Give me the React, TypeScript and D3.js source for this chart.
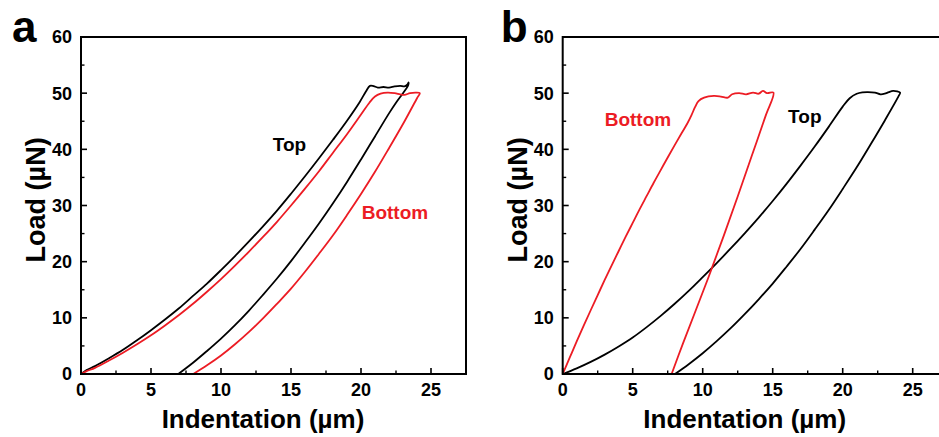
import * as d3 from 'd3';
import React, { useEffect, useRef } from 'react';

// load-indentation loops, [indentation µm, load µN], loading then unloading
const aTop = [
  [0, 0], [0.4, 0.7], [1, 1.4], [2, 2.8], [3, 4.3], [4, 6.0], [5, 7.8], [6, 9.7], [7, 11.7], [8, 13.9],
  [9, 16.1], [10, 18.5], [11, 21.0], [12, 23.6], [13, 26.3], [14, 29.1], [15, 32.1], [16, 35.2],
  [17, 38.4], [18, 41.7], [19, 45.1], [19.9, 48.4], [20.35, 50.3], [20.64, 51.3], [20.9, 51.25],
  [21.2, 51.0], [21.6, 51.1], [22.0, 51.0], [22.4, 51.2], [22.8, 51.3], [23.1, 51.2], [23.3, 51.5],
  [23.4, 51.9], [23.35, 51.3],
  [23.0, 50.0], [22.5, 48.3], [22.0, 46.4], [21, 42.3], [20, 38.2], [19, 34.2], [18, 30.4], [17, 26.8],
  [16, 23.4], [15, 20.1], [14, 17.0], [13, 14.1], [12, 11.3], [11, 8.7], [10, 6.3], [9, 4.1], [8, 2.0],
  [6.95, 0]
];
const aBottom = [
  [0, 0], [0.4, 0.5], [1, 1.1], [2, 2.4], [3, 3.8], [4, 5.3], [5, 6.9], [6, 8.65], [7, 10.5], [8, 12.5],
  [9, 14.65], [10, 16.9], [11, 19.3], [12, 21.8], [13, 24.4], [14, 27.1], [15, 30.0], [16, 33.0],
  [17, 36.1], [18, 39.4], [19, 42.7], [20, 46.2], [20.6, 48.3], [21.0, 49.4], [21.4, 49.9], [21.9, 50.1],
  [22.4, 50.0], [22.8, 49.8], [23.1, 49.7], [23.5, 50.0], [23.9, 50.1], [24.2, 50.0],
  [24, 49.1], [23, 44.5], [22, 40.2], [21, 36.0], [20, 32.05], [19, 28.3], [18, 24.7], [17, 21.4],
  [16, 18.2], [15, 15.2], [14, 12.5], [13, 9.9], [12, 7.5], [11, 5.3], [10, 3.3], [9, 1.55], [8.02, 0]
];
const bTop = [
  [0, 0], [1, 1.0], [2, 2.15], [3, 3.45], [4, 4.9], [5, 6.5], [6, 8.35], [7, 10.35], [8, 12.5], [9, 14.8],
  [10, 17.25], [11, 19.75], [12, 22.35], [13, 25.05], [14, 27.85], [15, 30.8], [16, 33.9], [17, 37.15],
  [18, 40.5], [19, 44.0], [20, 47.6], [20.5, 49.1], [21.0, 49.9], [21.4, 50.15], [21.8, 50.2],
  [22.3, 50.1], [22.7, 49.8], [23.0, 49.9], [23.3, 50.2], [23.6, 50.4], [23.9, 50.3], [24.1, 50.1],
  [24, 49.5], [23, 45.1], [22, 40.9], [21, 36.8], [20, 32.95], [19, 29.2], [18, 25.7], [17, 22.3],
  [16, 19.15], [15, 16.1], [14, 13.3], [13, 10.65], [12, 8.15], [11, 5.85], [10, 3.7], [9, 1.75],
  [8.02, 0]
];
const bBottom = [
  [0, 0], [0.5, 2.9], [1, 5.8], [1.5, 8.6], [2, 11.35], [2.5, 14.05], [3, 16.75], [3.5, 19.35], [4, 21.9],
  [4.5, 24.45], [5, 26.9], [5.5, 29.35], [6, 31.7], [6.5, 34.05], [7, 36.3], [7.5, 38.55], [8, 40.75],
  [8.5, 42.9], [8.9, 44.6], [9.2, 46.1], [9.45, 47.5], [9.7, 48.6], [10.1, 49.2], [10.8, 49.5],
  [11.3, 49.4], [11.8, 49.2], [12.1, 49.8], [12.6, 50.0], [13.1, 49.8], [13.6, 50.1], [14.0, 49.9],
  [14.3, 50.4], [14.6, 50.0], [15.05, 50.1],
  [14.5, 46.0], [13.5, 38.8], [12.5, 31.6], [11.5, 24.6], [10.5, 17.8], [9.5, 11.3], [8.6, 5.5],
  [7.78, 0]
];

const xTicks = [0, 5, 10, 15, 20, 25];
const yTicks = [0, 10, 20, 30, 40, 50, 60];
const xTitle = 'Indentation (µm)';
const yTitle = 'Load (µN)';

const RED = '#ec1c24';
const FONT = '"Liberation Sans", Arial, sans-serif';

const panels = [
  {
    letter: 'a', left: 81, top: 37, letterX: -69,
    series: [{ data: aTop, color: '#000' }, { data: aBottom, color: RED }],
    labels: [{ text: 'Top', x: 13.7, y: 39.7, color: '#000' }, { text: 'Bottom', x: 20.05, y: 27.6, color: RED }]
  },
  {
    letter: 'b', left: 562.7, top: 37, letterX: -62,
    series: [{ data: bTop, color: '#000' }, { data: bBottom, color: RED }],
    labels: [{ text: 'Bottom', x: 3.0, y: 44.2, color: RED }, { text: 'Top', x: 16.1, y: 44.6, color: '#000' }]
  }
];

function App() {
  const ref = useRef(null);

  useEffect(() => {
    const svg = d3.select(ref.current);
    svg.selectAll('*').remove();

    const width = 385;
    const height = 337;

    panels.forEach(p => {
      const g = svg.append('g').attr('transform', `translate(${p.left},${p.top})`);

      const x = d3.scaleLinear().domain([0, 27.5]).range([0, width]);
      const y = d3.scaleLinear().domain([0, 60]).range([height, 0]);

      // curves
      const line = d3.line().x(d => x(d[0])).y(d => y(d[1])).curve(d3.curveCatmullRom.alpha(0.5));
      p.series.forEach(s => {
        g.append('path')
          .attr('d', line(s.data))
          .attr('fill', 'none')
          .attr('stroke', s.color)
          .attr('stroke-width', 1.8)
          .attr('stroke-linejoin', 'round');
      });

      // ticks (inward), major + minor
      const xMinor = d3.range(2.5, 27.5, 5);
      const yMinor = d3.range(5, 60, 10);
      xTicks.forEach(t => g.append('line').attr('x1', x(t)).attr('x2', x(t)).attr('y1', height).attr('y2', height - 6)
        .attr('stroke', '#000').attr('stroke-width', 1.6));
      xMinor.forEach(t => g.append('line').attr('x1', x(t)).attr('x2', x(t)).attr('y1', height).attr('y2', height - 3.5)
        .attr('stroke', '#000').attr('stroke-width', 1.4));
      yTicks.forEach(t => g.append('line').attr('x1', 0).attr('x2', 6).attr('y1', y(t)).attr('y2', y(t))
        .attr('stroke', '#000').attr('stroke-width', 1.6));
      yMinor.forEach(t => g.append('line').attr('x1', 0).attr('x2', 3.5).attr('y1', y(t)).attr('y2', y(t))
        .attr('stroke', '#000').attr('stroke-width', 1.4));

      // frame
      g.append('rect')
        .attr('x', 0).attr('y', 0).attr('width', width).attr('height', height)
        .attr('fill', 'none').attr('stroke', '#000').attr('stroke-width', 2);

      // tick labels
      g.selectAll('.xl').data(xTicks).enter().append('text')
        .attr('x', d => x(d)).attr('y', height + 22)
        .attr('text-anchor', 'middle')
        .attr('font-family', FONT).attr('font-weight', 'bold').attr('font-size', 18)
        .text(d => d);
      g.selectAll('.yl').data(yTicks).enter().append('text')
        .attr('x', -9).attr('y', d => y(d)).attr('dy', '0.36em')
        .attr('text-anchor', 'end')
        .attr('font-family', FONT).attr('font-weight', 'bold').attr('font-size', 18)
        .text(d => d);

      // axis titles
      g.append('text')
        .attr('x', x(13)).attr('y', height + 54)
        .attr('text-anchor', 'middle')
        .attr('font-family', FONT).attr('font-weight', 'bold').attr('font-size', 26)
        .text(xTitle);
      g.append('text')
        .attr('transform', `translate(-36,${y(31)}) rotate(-90)`)
        .attr('text-anchor', 'middle')
        .attr('font-family', FONT).attr('font-weight', 'bold').attr('font-size', 27)
        .text(yTitle);

      // series labels
      p.labels.forEach(l => {
        g.append('text')
          .attr('x', x(l.x)).attr('y', y(l.y))
          .attr('fill', l.color)
          .attr('font-family', FONT).attr('font-weight', 'bold').attr('font-size', 19)
          .text(l.text);
      });

      // panel letter
      g.append('text')
        .attr('x', p.letterX).attr('y', 5)
        .attr('font-family', FONT).attr('font-weight', 'bold').attr('font-size', 44)
        .text(p.letter);
    });
  }, []);

  return (
    <svg ref={ref} width={939} height={437}
      style={{ position: 'absolute', left: 0, top: 0, background: '#fff' }} />
  );
}

export default App;
